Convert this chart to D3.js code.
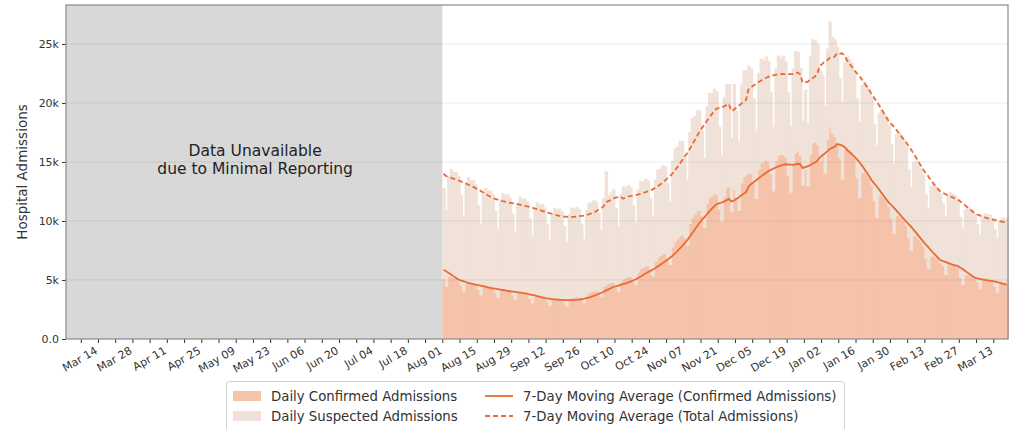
<!DOCTYPE html>
<html>
<head>
<meta charset="utf-8">
<script src="https://cdn.jsdelivr.net/npm/d3@7"></script>
<style>
  body { margin: 0; background: #fff; }
  svg { display: block; font-family: "DejaVu Sans", sans-serif; }
</style>
</head>
<body>
<svg id="chart" width="1015" height="429"></svg>
<script>
// daily series start Jul 26 2020, the first six days only warm up the 7-day average
var startDate = '2020-07-26';
var shownFrom = '2020-08-01';
var axisFrom = '2020-03-01';
var axisTo = '2021-03-19';

var confirmed = [
  5300, 6200, 6300, 6200, 6100, 5900,
  5080, 4460, 5250, 5300, 5200, 5090, 4890,
  4540, 4020, 4760, 4850, 4800, 4740, 4590,
  4200, 3720, 4430, 4520, 4470, 4430, 4310,
  3940, 3500, 4160, 4250, 4220, 4180, 4070,
  3760, 3330, 3960, 4030, 3990, 3950, 3830,
  3410, 3030, 3590, 3650, 3610, 3570, 3470,
  3170, 2830, 3390, 3480, 3470, 3450, 3380,
  3080, 2780, 3370, 3500, 3530, 3560, 3520,
  3320, 3030, 3710, 3910, 3990, 4060, 4070,
  3950, 3600, 4410, 4620, 4700, 4790, 4780,
  4350, 3970, 4860, 5090, 5190, 5280, 5270,
  5020, 4600, 5640, 5930, 6060, 6180, 6200,
  5790, 5310, 6530, 6890, 7060, 7210, 7240,
  6800, 6280, 7770, 8240, 8480, 8730, 8800,
  8590, 7900, 9740, 10290, 10550, 10830, 10880,
  10400, 9440, 11480, 11970, 12130, 12290, 12210,
  10960, 9910, 12020, 12800, 12900, 10800, 12630,
  11980, 10850, 13200, 13760, 13920, 14100, 14000,
  13150, 11870, 14360, 14910, 15040, 15160, 15000,
  13960, 12520, 15060, 15540, 15580, 15610, 15360,
  13830, 12420, 14940, 15800, 15900, 15500, 13000,
  14340, 12930, 15640, 16600, 16700, 16470, 15000,
  15600, 14000, 16900, 18000, 17400, 17100, 16600,
  15310, 13520, 16020, 16280, 16050, 15840, 15330,
  13620, 11950, 14060, 14180, 13880, 13590, 13040,
  11730, 10290, 12090, 12180, 11920, 11660, 11180,
  10170, 8900, 10440, 10500, 10250, 10010, 9570,
  8560, 7450, 8710, 8720, 8460, 8220, 7820,
  6790, 5950, 6990, 7040, 6880, 6720, 6440,
  6190, 5450, 6440, 6510, 6390, 6290, 6060,
  5200, 4570, 5400, 5460, 5370, 5270, 5080,
  4810, 4270, 5070, 5180, 5130, 5080, 4940,
  4440, 3940, 4680, 4780, 4740, 4690
];

var suspected = [
  6900, 8300, 8500, 8500, 8500, 8500,
  7710, 6460, 8570, 9090, 8950, 9090, 8920,
  7660, 6390, 8410, 8850, 8650, 8730, 8510,
  7160, 5980, 7850, 8270, 8100, 8160, 7950,
  6940, 5820, 7670, 8110, 7970, 8070, 7900,
  6850, 5760, 7570, 8010, 7880, 7970, 7810,
  6800, 5710, 7490, 7910, 7770, 7860, 7680,
  6590, 5540, 7250, 7650, 7520, 7610, 7450,
  6510, 5490, 7210, 7630, 7530, 7630, 7490,
  6450, 5450, 7200, 7650, 7560, 7710, 7590,
  6760, 5690, 7530, 9580, 7500, 7610, 7900,
  6760, 5630, 7430, 7860, 7690, 7770, 7590,
  6340, 5250, 7020, 7450, 7290, 7400, 7220,
  6150, 5110, 6940, 7450, 7350, 7520, 7420,
  6420, 5330, 7340, 7920, 7830, 8060, 7980,
  6810, 5600, 7790, 8440, 8330, 8570, 8480,
  7290, 5900, 8250, 8900, 8710, 8920, 8770,
  7040, 5680, 8480, 8800, 8700, 6200, 8970,
  7350, 5910, 8350, 9030, 8850, 9070, 8920,
  7260, 5760, 8200, 8840, 8580, 8780, 8570,
  6960, 5460, 7850, 8480, 8210, 8380, 8170,
  7070, 5580, 7960, 8600, 8400, 7500, 5500,
  6800, 5380, 8360, 8800, 8600, 8530, 7800,
  6800, 5800, 7700, 8900, 8200, 8300, 8200,
  6810, 6510, 7480, 7660, 7640, 7590, 7400,
  6800, 6460, 7470, 7660, 7630, 7610, 7440,
  6490, 6130, 7080, 7250, 7200, 7150, 6970,
  6360, 5970, 6890, 7040, 6980, 6910, 6720,
  5820, 5450, 6280, 6400, 6350, 6270, 6090,
  5480, 5110, 5940, 6090, 6060, 6030, 5870,
  5330, 4960, 5780, 5930, 5920, 5880, 5730,
  5150, 4800, 5590, 5720, 5690, 5660, 5520,
  4890, 4550, 5340, 5480, 5460, 5460, 5340,
  4890, 4570, 5370, 5520, 5520, 5530
];

var yTicks = [0, 5000, 10000, 15000, 20000, 25000];
var yTickLabels = ['0.0', '5k', '10k', '15k', '20k', '25k'];
var legendLabels = [
  'Daily Confirmed Admissions',
  'Daily Suspected Admissions',
  '7-Day Moving Average (Confirmed Admissions)',
  '7-Day Moving Average (Total Admissions)'
];

var colConfirmed = '#f5c3aa',
  colSuspected = '#f0e2d8',
  colLine = '#e96b35',
  colMask = '#d8d8d8';

var margin = { left: 66, top: 5, right: 1008, bottom: 339 };

var parse = d3.utcParse('%Y-%m-%d');
var t0 = parse(startDate);

var rows = confirmed.map(function(c, i) {
  return {
    date: d3.utcDay.offset(t0, i),
    confirmed: c,
    suspected: suspected[i],
    total: c + suspected[i]
  };
});

// trailing 7 day mean
rows.forEach(function(r, i) {
  var win = rows.slice(Math.max(0, i - 6), i + 1);
  r.maConfirmed = d3.mean(win, function(d) { return d.confirmed; });
  r.maTotal = d3.mean(win, function(d) { return d.total; });
});

var shown = rows.filter(function(r) { return r.date >= parse(shownFrom); });

var x = d3.scaleUtc()
  .domain([parse(axisFrom), parse(axisTo)])
  .range([margin.left, margin.right]);

var y = d3.scaleLinear()
  .domain([0, 28300])
  .range([margin.bottom, margin.top]);

var svg = d3.select('#chart');

svg.append('rect')
  .attr('width', 1015).attr('height', 429)
  .attr('fill', '#fff');

// grey block where nothing was reported
var maskRight = x(parse(shownFrom));
svg.append('rect')
  .attr('x', margin.left)
  .attr('y', margin.top)
  .attr('width', maskRight - margin.left)
  .attr('height', margin.bottom - margin.top)
  .attr('fill', colMask);

svg.append('text')
  .attr('y', 156)
  .attr('text-anchor', 'middle')
  .style('font-size', '15.5px')
  .style('fill', '#222')
  .selectAll('tspan')
  .data(['Data Unavailable', 'due to Minimal Reporting'])
  .enter().append('tspan')
  .attr('x', (margin.left + maskRight) / 2 + 1)
  .attr('dy', function(d, i) { return i ? 18 : 0; })
  .text(function(d) { return d; });

var bars = svg.append('g');

function barWidth(d) {
  return x(d3.utcDay.offset(d.date, 1)) - x(d.date) + 1;
}

bars.selectAll('rect.confirmed')
  .data(shown)
  .enter().append('rect')
  .attr('class', 'confirmed')
  .attr('x', function(d) { return x(d.date); })
  .attr('width', barWidth)
  .attr('y', function(d) { return y(d.confirmed); })
  .attr('height', function(d) { return y(0) - y(d.confirmed); })
  .attr('fill', colConfirmed);

bars.selectAll('rect.suspected')
  .data(shown)
  .enter().append('rect')
  .attr('class', 'suspected')
  .attr('x', function(d) { return x(d.date); })
  .attr('width', barWidth)
  .attr('y', function(d) { return y(d.total); })
  .attr('height', function(d) { return y(d.confirmed) - y(d.total); })
  .attr('fill', colSuspected);

// grid
svg.append('g').selectAll('line')
  .data(yTicks.slice(1))
  .enter().append('line')
  .attr('x1', margin.left).attr('x2', margin.right)
  .attr('y1', function(d) { return y(d); })
  .attr('y2', function(d) { return y(d); })
  .attr('stroke', '#000')
  .attr('stroke-opacity', 0.08)
  .attr('stroke-width', 1);

function mid(d) {
  return x(d.date) + (x(d3.utcDay.offset(d.date, 1)) - x(d.date)) / 2;
}

var lineConfirmed = d3.line()
  .x(mid)
  .y(function(d) { return y(d.maConfirmed); });

var lineTotal = d3.line()
  .x(mid)
  .y(function(d) { return y(d.maTotal); });

svg.append('path')
  .datum(shown)
  .attr('d', lineConfirmed)
  .attr('fill', 'none')
  .attr('stroke', colLine)
  .attr('stroke-width', 1.8);

svg.append('path')
  .datum(shown)
  .attr('d', lineTotal)
  .attr('fill', 'none')
  .attr('stroke', colLine)
  .attr('stroke-width', 1.8)
  .attr('stroke-dasharray', '5,3');

// axes
var weekTicks = d3.utcSaturday.range(parse('2020-03-07'), parse(axisTo));
var labelStart = parse('2020-03-14');
var fmt = d3.utcFormat('%b %d');

var xAxis = d3.axisBottom(x)
  .tickValues(weekTicks)
  .tickSize(4)
  .tickFormat(function(d) {
    var w = Math.round((d - labelStart) / (7 * 864e5));
    return w >= 0 && w % 2 === 0 ? fmt(d) : '';
  });

var gx = svg.append('g')
  .attr('transform', 'translate(0,' + margin.bottom + ')')
  .call(xAxis);
gx.select('.domain').remove();
gx.selectAll('line').attr('stroke', '#333');
gx.selectAll('text')
  .attr('x', 0).attr('y', 0).attr('dy', '0.71em')
  .attr('text-anchor', 'end')
  .attr('transform', 'translate(-4,7) rotate(-30)')
  .style('font-size', '11px')
  .style('font-family', '"DejaVu Sans", sans-serif')
  .style('fill', '#333');

var yAxis = d3.axisLeft(y)
  .tickValues(yTicks)
  .tickSize(4)
  .tickFormat(function(d, i) { return yTickLabels[i]; });

var gy = svg.append('g')
  .attr('transform', 'translate(' + margin.left + ',0)')
  .call(yAxis);
gy.select('.domain').remove();
gy.selectAll('line').attr('stroke', '#333');
gy.selectAll('text')
  .style('font-size', '11px')
  .style('font-family', '"DejaVu Sans", sans-serif')
  .style('fill', '#333');

svg.append('rect')
  .attr('x', margin.left).attr('y', margin.top)
  .attr('width', margin.right - margin.left)
  .attr('height', margin.bottom - margin.top)
  .attr('fill', 'none')
  .attr('stroke', '#8a8a8a')
  .attr('stroke-width', 1.2);

svg.append('text')
  .attr('transform', 'translate(27,' + ((margin.top + margin.bottom) / 2) + ') rotate(-90)')
  .attr('text-anchor', 'middle')
  .style('font-size', '13.5px')
  .style('fill', '#333')
  .text('Hospital Admissions');

// legend
var legend = svg.append('g');
legend.append('rect')
  .attr('x', 226.5).attr('y', 381.5)
  .attr('width', 618).attr('height', 52)
  .attr('rx', 3)
  .attr('fill', '#fff')
  .attr('stroke', '#d0d0d0');

var items = [
  { label: legendLabels[0], kind: 'patch', color: colConfirmed, x: 233, y: 396 },
  { label: legendLabels[1], kind: 'patch', color: colSuspected, x: 233, y: 416 },
  { label: legendLabels[2], kind: 'line', dash: null, x: 485, y: 396 },
  { label: legendLabels[3], kind: 'line', dash: '5,3', x: 485, y: 416 }
];

items.forEach(function(it) {
  if (it.kind == 'patch') {
    legend.append('rect')
      .attr('x', it.x).attr('y', it.y - 5)
      .attr('width', 28).attr('height', 10)
      .attr('fill', it.color);
  } else {
    legend.append('line')
      .attr('x1', it.x).attr('x2', it.x + 28)
      .attr('y1', it.y).attr('y2', it.y)
      .attr('stroke', colLine)
      .attr('stroke-width', 1.8)
      .attr('stroke-dasharray', it.dash);
  }
  legend.append('text')
    .attr('x', it.x + 38)
    .attr('y', it.y)
    .attr('dy', '0.35em')
    .style('font-size', '13.3px')
    .style('fill', '#333')
    .text(it.label);
});
</script>
</body>
</html>
